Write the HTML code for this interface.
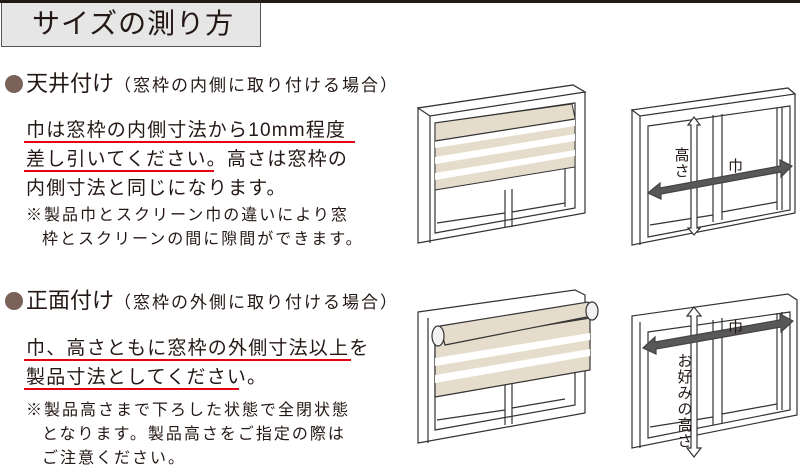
<!DOCTYPE html>
<html><head><meta charset="utf-8"><style>
body{margin:0;width:800px;height:475px;background:#fff;position:relative;overflow:hidden;font-family:"Liberation Sans","Noto Sans CJK JP",sans-serif;color:#231815}
.a{position:absolute;white-space:nowrap;line-height:1}
.t{font-size:28px;letter-spacing:1px}
.h{font-size:22px}
.h small{font-size:17px;letter-spacing:2px}
.m{font-size:19px;letter-spacing:1.2px}
.n{font-size:16px;letter-spacing:2px}
.u{position:absolute;height:2px;background:#e60012}
.dot{position:absolute;width:18px;height:18px;border-radius:50%;background:#7a625a}
</style></head><body>
<div style="position:absolute;left:0;top:0;width:800px;height:3px;background:#231815"></div>
<div style="position:absolute;left:1px;top:3px;width:258px;height:43px;background:#e6e6e6;border:1px solid #555;border-top:none"></div>
<div class="a t" style="left:32px;top:10px">サイズの測り方</div>

<div class="dot" style="left:5px;top:75px"></div>
<div class="a h" style="left:26px;top:73px">天井付け<small>（窓枠の内側に取り付ける場合）</small></div>
<div class="a m" style="left:26px;top:121px">巾は窓枠の内側寸法から10mm程度</div>
<div class="u" style="left:24px;top:141px;width:331px"></div>
<div class="a m" style="left:26px;top:150px">差し引いてください。高さは窓枠の</div>
<div class="u" style="left:24px;top:170px;width:190px"></div>
<div class="a m" style="left:26px;top:179px">内側寸法と同じになります。</div>
<div class="a n" style="left:26px;top:208px">※製品巾とスクリーン巾の違いにより窓</div>
<div class="a n" style="left:42px;top:232px">枠とスクリーンの間に隙間ができます。</div>

<div class="dot" style="left:5px;top:292px"></div>
<div class="a h" style="left:26px;top:290px">正面付け<small>（窓枠の外側に取り付ける場合）</small></div>
<div class="a m" style="left:26px;top:339px">巾、高さともに窓枠の外側寸法以上を</div>
<div class="u" style="left:24px;top:359px;width:327px"></div>
<div class="a m" style="left:26px;top:368px">製品寸法としてください。</div>
<div class="u" style="left:24px;top:388px;width:215px"></div>
<div class="a n" style="left:26px;top:403px">※製品高さまで下ろした状態で全閉状態</div>
<div class="a n" style="left:42px;top:427px">となります。製品高さをご指定の際は</div>
<div class="a n" style="left:42px;top:451px">ご注意ください。</div>

<svg width="800" height="475" style="position:absolute;left:0;top:0" fill="none" stroke="#333" stroke-width="1.2">
<!-- window 1 -->
<polygon points="418,108 573,85 585,92 585,213 418,243" fill="#fff"/>
<polygon points="418,108 573,85 585,92 430,116" fill="#fff"/>
<line x1="430" y1="116" x2="430" y2="243"/>
<polygon points="435,123 575,103 575,208 435,233" fill="#fff"/>
<line x1="505" y1="190" x2="505" y2="228"/><line x1="512" y1="189" x2="512" y2="227"/>
<line x1="565" y1="105" x2="565" y2="207"/>
<line x1="437" y1="223" x2="505" y2="213"/><line x1="512" y1="212" x2="565" y2="203"/>
<polygon points="435,123 572,104 575,118 575,167 435,190" fill="#e6dccb" stroke-width="1"/>
<polygon points="435,141 575,119 575,126 435,148" fill="#fff" stroke="none"/>
<polygon points="435,157 575,134 575,141 435,164" fill="#fff" stroke="none"/>
<polygon points="435,173 575,150 575,156 435,180" fill="#fff" stroke="none"/>
<line x1="435" y1="141" x2="575" y2="119"/>
<!-- window 2 -->
<polygon points="632,110 788,88 795,94 795,213 632,245" fill="#fff"/>
<polygon points="632,110 788,88 795,94 640,116" fill="#fff"/>
<line x1="640" y1="116" x2="640" y2="245"/>
<polygon points="648,126 790,106 790,210 648,237" fill="#fff"/>
<line x1="713" y1="115" x2="713" y2="222"/><line x1="722" y1="114" x2="722" y2="220"/>
<line x1="777" y1="108" x2="777" y2="210"/><line x1="782" y1="107" x2="782" y2="210"/>
<line x1="650" y1="225" x2="713" y2="215"/><line x1="722" y1="212" x2="777" y2="202"/>
<!-- window 3 -->
<polygon points="418,312 575,290 585,295 585,413 418,443" fill="#fff"/>
<line x1="428" y1="318" x2="428" y2="443"/>
<polygon points="435,328 575,310 575,405 435,430" fill="#fff"/>
<line x1="505" y1="385" x2="505" y2="425"/><line x1="512" y1="384" x2="512" y2="424"/>
<line x1="437" y1="420" x2="505" y2="410"/><line x1="512" y1="408" x2="565" y2="399"/>
<polygon points="435,343 590,318 590,370 435,397" fill="#e6dccb"/>
<polygon points="435,358 590,333 590,340 435,366" fill="#fff" stroke="none"/>
<polygon points="435,375 590,349 590,356 435,383" fill="#fff" stroke="none"/>
<polygon points="440,326 588,302 592,316 445,345" fill="#e6dccb"/>
<ellipse cx="438" cy="336" rx="6" ry="10" fill="#f2f2f2"/>
<ellipse cx="592" cy="311" rx="6" ry="9" fill="#f2f2f2"/>
<!-- window 4 -->
<polygon points="632,316 788,294 797,300 797,415 632,448" fill="#fff"/>
<line x1="640" y1="322" x2="640" y2="448"/>
<polygon points="648,332 790,312 790,410 648,438" fill="#fff"/>
<line x1="713" y1="320" x2="713" y2="425"/><line x1="722" y1="318" x2="722" y2="423"/>
<line x1="777" y1="313" x2="777" y2="410"/><line x1="782" y1="312" x2="782" y2="410"/>
<line x1="650" y1="427" x2="713" y2="417"/><line x1="722" y1="414" x2="777" y2="404"/>
<!-- arrows -->
<polygon points="694,117 700,125 697,125 697,228 700,228 694,235 688,228 691,228 691,125 688,125" fill="#fff"/>
<polygon points="648,193 660,183 660,188 780,166 780,160 792,166 781,177 781,172 661,194 661,199" fill="#595757" stroke="#444"/>
<polygon points="694,307 701,316 697,316 697,448 701,448 694,457 687,448 691,448 691,316 687,316" fill="#fff"/>
<polygon points="643,348 655,337 655,342 780,320 780,314 793,321 781,332 781,327 656,349 656,354" fill="#595757" stroke="#444"/>
</svg>
<div class="a" style="left:674px;top:148px;font-size:15px;line-height:16px;width:16px;text-align:center">高<br>さ</div>
<div class="a" style="left:728px;top:159px;font-size:15px">巾</div>
<div class="a" style="left:728px;top:320px;font-size:15px">巾</div>
<div class="a" style="left:677px;top:354px;font-size:15px;line-height:16px;width:16px;text-align:center">お<br>好<br>み<br>の<br>高<br>さ</div>
</body></html>
